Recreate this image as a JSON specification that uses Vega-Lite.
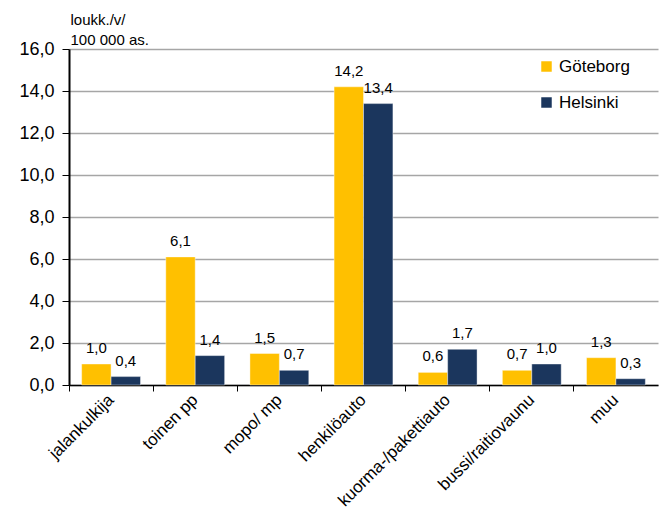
{
  "$schema": "https://vega.github.io/schema/vega-lite/v6.json",
  "autosize": {"type": "none"},
  "width": 589,
  "height": 336,
  "padding": {"left": 69, "top": 49, "right": 7, "bottom": 125},
  "background": "white",
  "config": {
    "locale": {"number": {"decimal": ",", "thousands": " ", "grouping": [3], "currency": ["", " €"]}},
    "font": "Liberation Sans",
    "view": {"stroke": null}
  },
  "data": {
    "values": [
      {"cat": "jalankulkija", "city": "Göteborg", "v": 1.0},
      {"cat": "jalankulkija", "city": "Helsinki", "v": 0.4},
      {"cat": "toinen pp", "city": "Göteborg", "v": 6.1},
      {"cat": "toinen pp", "city": "Helsinki", "v": 1.4},
      {"cat": "mopo/ mp", "city": "Göteborg", "v": 1.5},
      {"cat": "mopo/ mp", "city": "Helsinki", "v": 0.7},
      {"cat": "henkilöauto", "city": "Göteborg", "v": 14.2},
      {"cat": "henkilöauto", "city": "Helsinki", "v": 13.4},
      {"cat": "kuorma-/pakettiauto", "city": "Göteborg", "v": 0.6},
      {"cat": "kuorma-/pakettiauto", "city": "Helsinki", "v": 1.7},
      {"cat": "bussi/raitiovaunu", "city": "Göteborg", "v": 0.7},
      {"cat": "bussi/raitiovaunu", "city": "Helsinki", "v": 1.0},
      {"cat": "muu", "city": "Göteborg", "v": 1.3},
      {"cat": "muu", "city": "Helsinki", "v": 0.3}
    ]
  },
  "encoding": {
    "x": {
      "field": "cat", "type": "nominal", "sort": null,
      "scale": {"paddingInner": 0, "paddingOuter": 0},
      "axis": {
        "title": null, "bandPosition": 0, "labelAngle": -45,
        "labelAlign": "right", "labelBaseline": "middle", "labelFontSize": 17,
        "labelColor": "black", "labelPadding": 6, "tickSize": 6, "tickColor": "black",
        "domainColor": "black", "domainWidth": 1.5, "grid": false
      }
    },
    "xOffset": {"field": "city", "type": "nominal", "scale": {"paddingOuter": 0.43, "paddingInner": 0}},
    "y": {
      "field": "v", "type": "quantitative",
      "scale": {"domain": [0, 16], "nice": false},
      "axis": {
        "values": [0, 2, 4, 6, 8, 10, 12, 14, 16], "format": ".1f",
        "labelFontSize": 18, "labelColor": "black", "labelPadding": 8,
        "tickSize": 7, "tickColor": "black", "domainColor": "black", "domainWidth": 2,
        "gridColor": "#a6a6a6", "gridWidth": 1.5,
        "title": ["loukk./v/", "100 000 as."], "titleAngle": 0, "titleAlign": "left",
        "titleBaseline": "top", "titleX": 1, "titleY": -37, "titleFontSize": 15,
        "titleFontWeight": "normal", "titleColor": "black", "titleLineHeight": 20
      }
    }
  },
  "layer": [
    {
      "mark": {"type": "bar", "stroke": "#ffffff", "strokeWidth": 0.8, "strokeOpacity": 0.5},
      "encoding": {
        "color": {
          "field": "city", "type": "nominal",
          "scale": {"domain": ["Göteborg", "Helsinki"], "range": ["#ffc000", "#1b365d"]},
          "legend": {
            "title": null, "orient": "none", "legendX": 469, "legendY": 9,
            "symbolType": "square", "symbolSize": 110, "symbolStrokeWidth": 0,
            "labelFontSize": 17, "labelColor": "black", "rowPadding": 18, "labelOffset": 4
          }
        }
      }
    },
    {
      "mark": {"type": "text", "dy": -8, "baseline": "bottom", "fontSize": 15, "color": "black"},
      "encoding": {
        "text": {"field": "v", "type": "quantitative", "format": ".1f"}
      }
    }
  ]
}
